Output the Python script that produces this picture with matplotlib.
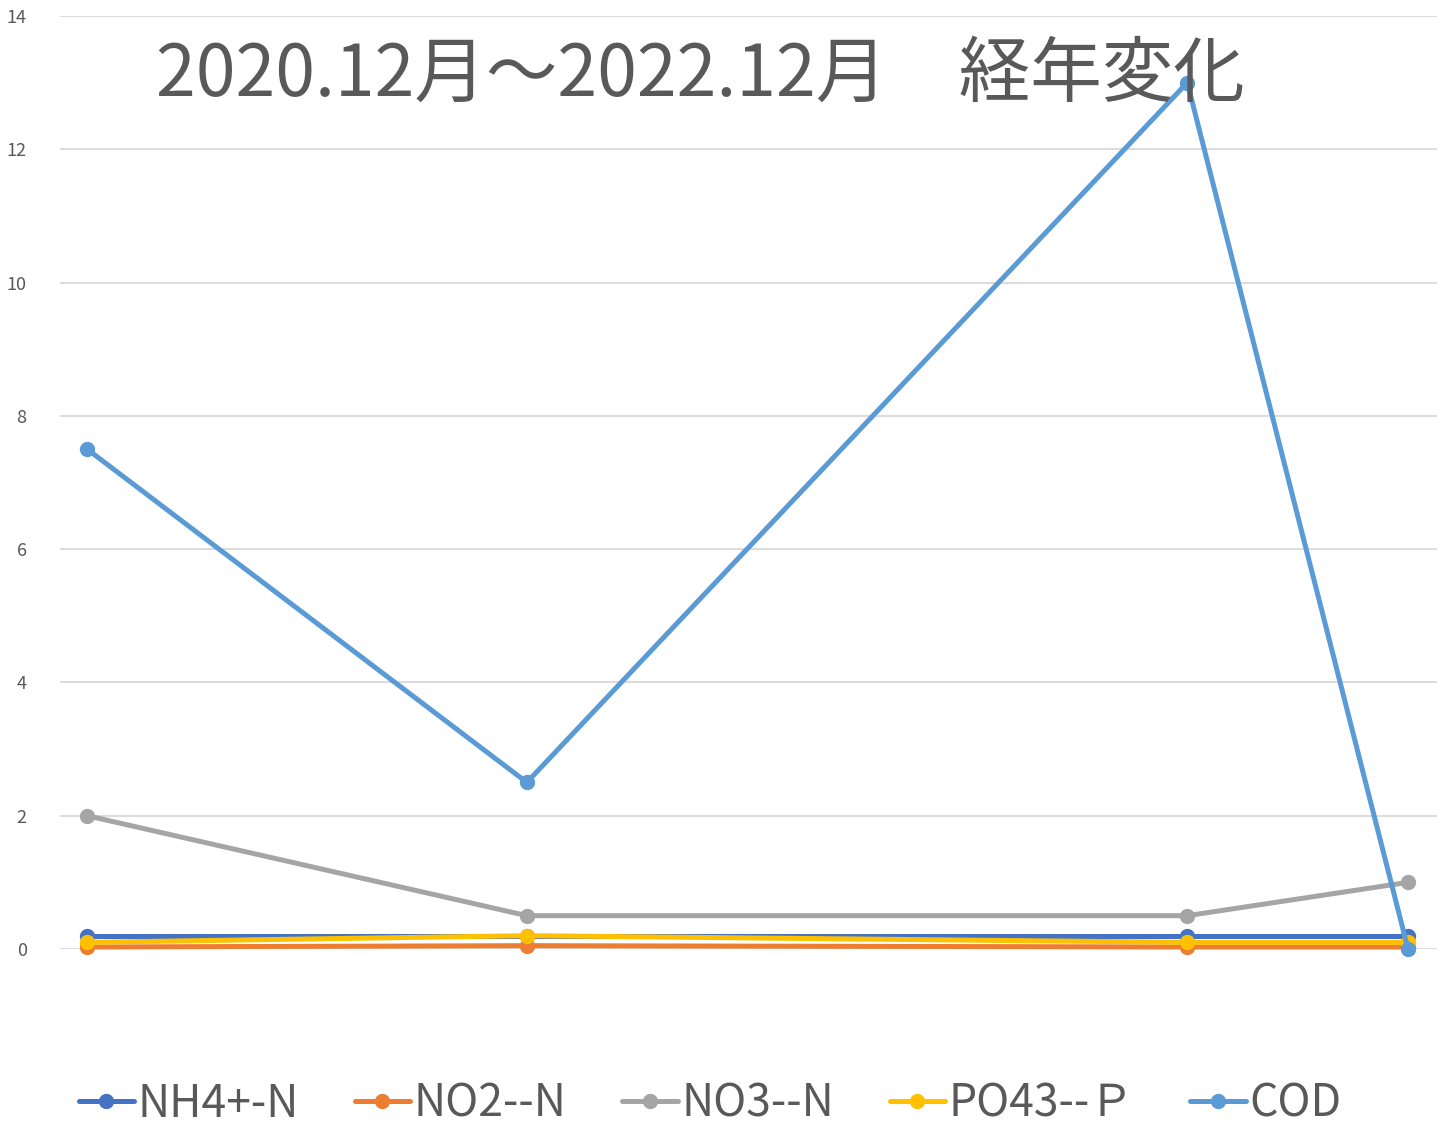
import matplotlib.pyplot as plt
import matplotlib.dates as mdates
import pandas as pd

plt.rcParams['font.family'] = ['Noto Sans CJK JP', 'DejaVu Sans']

# sampling dates (x positions are spaced by time on the original chart)
dates = pd.to_datetime(['2020-12-01', '2021-08-01', '2022-08-01', '2022-12-01'])

nh4 = [0.2, 0.2, 0.2, 0.2]
no2 = [0.03, 0.05, 0.03, 0.03]
no3 = [2.0, 0.5, 0.5, 1.0]
po4 = [0.1, 0.2, 0.1, 0.1]
cod = [7.5, 2.5, 13.0, 0.0]

names = ['NH4+-N', 'NO2--N', 'NO3--N', 'PO43--Ｐ', 'COD']
colors = ['#4472C4', '#ED7D31', '#A5A5A5', '#FFC000', '#5B9BD5']
title = '2020.12月～2022.12月　経年変化'

fig = plt.figure(figsize=(14.37, 11.25), dpi=100)
ax = fig.add_axes([60 / 1437, 176 / 1125, 1377 / 1437, 933 / 1125])

for vals, name, c in zip([nh4, no2, no3, po4, cod], names, colors):
    ax.plot(dates, vals, color=c, lw=3.6, marker='o', markersize=10, label=name,
            solid_capstyle='round', clip_on=False)

x0 = mdates.date2num(dates[0])
x1 = mdates.date2num(dates[-1])
ax.set_xlim(x0 - 15, x1 + 16)
ax.set_ylim(0, 14)
ax.set_yticks(range(0, 15, 2))
ax.set_xticks([])
ax.grid(axis='y', color='#D9D9D9', lw=1.3)
ax.set_axisbelow(True)
for s in ax.spines.values():
    s.set_visible(False)
ax.tick_params(axis='y', length=0, pad=24, labelsize=13, labelcolor='#595959')

ax.text(0.465, 0.937, title, transform=ax.transAxes, ha='center', va='center',
        fontsize=51.5, color='#595959')

fig.legend(loc='center', bbox_to_anchor=(0.494, 0.019), ncol=5, frameon=False,
           fontsize=32, handlelength=1.25, handletextpad=0.08, columnspacing=1.25,
           labelcolor='#595959')

fig.savefig('out.png', dpi=100)
